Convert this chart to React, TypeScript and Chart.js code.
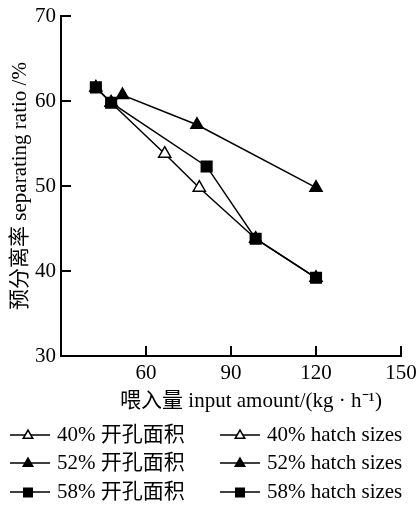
import React, { useEffect, useRef } from 'react';
import { Chart, registerables } from 'chart.js';
Chart.register(...registerables);

const seriesLabels = ['40%', '52%', '58%'];
const legendCn = '开孔面积';
const legendEn = 'hatch sizes';
const xTickValues = [60, 90, 120, 150];
const yTickValues = [30, 40, 50, 60, 70];
const x40 = [47.7, 66.6, 78.8, 98.7, 120];
const y40 = [59.8, 53.8, 49.8, 43.8, 39.2];
const x52 = [42.3, 47.7, 51.7, 78.0, 120];
const y52 = [61.6, 59.8, 60.7, 57.2, 49.8];
const x58 = [42.3, 47.7, 81.4, 98.7, 120];
const y58 = [61.6, 59.8, 52.3, 43.8, 39.2];
const xTitle = '喂入量 input amount/(kg · h⁻¹)';
const yTitle = '预分离率 separating ratio /%';

const FONT = "'Liberation Serif', 'Noto Sans CJK SC', serif";
const markerStyles = [
  { shape: 'triangle', filled: false },
  { shape: 'triangle', filled: true },
  { shape: 'rect', filled: true },
];

function drawMarker(ctx: CanvasRenderingContext2D, shape: string, x: number, y: number, r: number, filled: boolean) {
  ctx.beginPath();
  if (shape === 'triangle') {
    ctx.moveTo(x, y - r);
    ctx.lineTo(x + r * 0.866, y + r * 0.5);
    ctx.lineTo(x - r * 0.866, y + r * 0.5);
    ctx.closePath();
  } else {
    const s = r * 0.707;
    ctx.rect(x - s, y - s, 2 * s, 2 * s);
  }
  ctx.fillStyle = filled ? '#000' : '#fff';
  ctx.fill();
  ctx.stroke();
}

const decorPlugin = {
  id: 'decor',
  afterDraw(chart: any) {
    const ctx: CanvasRenderingContext2D = chart.ctx;
    const xs = chart.scales.x;
    const ys = chart.scales.y;
    const area = chart.chartArea;
    ctx.save();
    ctx.strokeStyle = '#000';
    ctx.lineWidth = 2;
    // inward ticks
    xTickValues.forEach((v) => {
      const px = Math.round(xs.getPixelForValue(v));
      ctx.beginPath();
      ctx.moveTo(px, area.bottom);
      ctx.lineTo(px, area.bottom - 10);
      ctx.stroke();
    });
    yTickValues.forEach((v) => {
      const py = Math.round(ys.getPixelForValue(v));
      ctx.beginPath();
      ctx.moveTo(area.left, py);
      ctx.lineTo(area.left + 10, py);
      ctx.stroke();
    });
    // titles
    ctx.fillStyle = '#000';
    ctx.font = `21px ${FONT}`;
    ctx.textAlign = 'center';
    ctx.textBaseline = 'middle';
    ctx.fillText(xTitle, 251, 401);
    ctx.save();
    ctx.translate(20, (area.top + area.bottom) / 2);
    ctx.rotate(-Math.PI / 2);
    ctx.fillText(yTitle, 0, 0);
    ctx.restore();
    // legend
    const rows = [435, 463, 492];
    const cols = [
      { x0: 10, x1: 50, m: 28, t: 57, text: legendCn },
      { x0: 220, x1: 260, m: 240, t: 267, text: legendEn },
    ];
    ctx.textAlign = 'left';
    ctx.font = `21px ${FONT}`;
    rows.forEach((ry, i) => {
      cols.forEach((c) => {
        ctx.lineWidth = 1.5;
        ctx.beginPath();
        ctx.moveTo(c.x0, ry);
        ctx.lineTo(c.x1, ry);
        ctx.stroke();
        drawMarker(ctx, markerStyles[i].shape, c.m, ry + 0.5, markerStyles[i].shape === 'rect' ? 6 : 5.5, markerStyles[i].filled);
        ctx.fillStyle = '#000';
        ctx.fillText(`${seriesLabels[i]} ${c.text}`, c.t, ry);
      });
    });
    ctx.restore();
  },
};

function pts(xv: number[], yv: number[]) {
  return xv.map((x, i) => ({ x, y: yv[i] }));
}

export default function App() {
  const ref = useRef<HTMLCanvasElement>(null);
  useEffect(() => {
    if (!ref.current) return;
    const ds = (label: string, data: any[], i: number) => ({
      label,
      data,
      order: 2 - i,
      borderColor: '#000',
      borderWidth: 1.5,
      backgroundColor: markerStyles[i].filled ? '#000' : '#fff',
      pointStyle: markerStyles[i].shape,
      pointRadius: markerStyles[i].shape === 'rect' ? 7.5 : 7,
      pointBorderColor: '#000',
      pointBorderWidth: 1.5,
      showLine: true,
      fill: false,
      tension: 0,
    });
    const chart = new Chart(ref.current, {
      type: 'scatter',
      data: {
        datasets: [
          ds(seriesLabels[0], pts(x40, y40), 0),
          ds(seriesLabels[1], pts(x52, y52), 1),
          ds(seriesLabels[2], pts(x58, y58), 2),
        ],
      },
      options: {
        responsive: false,
        animation: false,
        devicePixelRatio: 1,
        layout: { padding: { top: 16, right: 15, left: 0, bottom: 0 } },
        plugins: { legend: { display: false }, tooltip: { enabled: false } },
        scales: {
          x: {
            type: 'linear',
            min: 30,
            max: 150,
            afterFit: (s: any) => { s.height = 151; s.paddingRight = 0; s.paddingLeft = 0; },
            afterBuildTicks: (s: any) => { s.ticks = [30, ...xTickValues].map((v) => ({ value: v })); },
            ticks: {
              color: '#000',
              font: { family: FONT, size: 21 },
              padding: 5,
              maxRotation: 0,
              callback: (v: any) => (xTickValues.includes(Number(v)) ? String(v) : ''),
            },
            grid: { display: true, drawOnChartArea: false, drawTicks: false, color: '#000' },
            border: { display: true, color: '#000', width: 2 },
          },
          y: {
            type: 'linear',
            min: 30,
            max: 70,
            afterFit: (s: any) => { s.width = 61; s.paddingTop = 0; s.paddingBottom = 0; },
            afterBuildTicks: (s: any) => { s.ticks = yTickValues.map((v) => ({ value: v })); },
            ticks: {
              color: '#000',
              font: { family: FONT, size: 21 },
              padding: 5,
            },
            grid: { display: true, drawOnChartArea: false, drawTicks: false, color: '#000' },
            border: { display: true, color: '#000', width: 2 },
          },
        },
      },
      plugins: [decorPlugin],
    } as any);
    return () => chart.destroy();
  }, []);
  return (
    <div style={{ position: 'fixed', left: 0, top: 0, width: 416, height: 507, background: '#fff' }}>
      <canvas ref={ref} width={416} height={507} />
    </div>
  );
}
